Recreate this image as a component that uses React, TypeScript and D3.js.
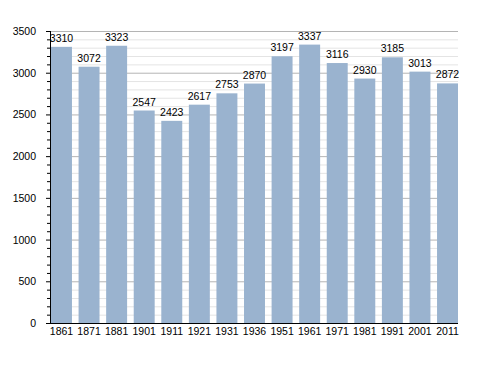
import React, { useEffect, useRef } from 'react';
import * as d3 from 'd3';

const years = ['1861', '1871', '1881', '1901', '1911', '1921', '1931', '1936', '1951', '1961', '1971', '1981', '1991', '2001', '2011'];
const population = [3310, 3072, 3323, 2547, 2423, 2617, 2753, 2870, 3197, 3337, 3116, 2930, 3185, 3013, 2872];
const yMajorTicks = [0, 500, 1000, 1500, 2000, 2500, 3000, 3500];

export default function App() {
  const svgRef = useRef<SVGSVGElement>(null);

  useEffect(() => {
    if (!svgRef.current) return;
    const svg = d3.select(svgRef.current);
    svg.selectAll('*').remove();

    const left = 50, right = 458, top = 31, bottom = 323;
    const font = 'Liberation Sans, Arial, sans-serif';

    const x = d3.scaleBand().domain(years).range([51, 458]).paddingInner(0.24).paddingOuter(0);
    const y = d3.scaleLinear().domain([0, 3500]).range([bottom, top]);

    // minor grid
    const minor = d3.range(0, 3501, 100).filter(v => v % 500 !== 0);
    svg.append('g').selectAll('line').data(minor).enter().append('line')
      .attr('x1', left).attr('x2', right)
      .attr('y1', d => y(d) + 0.5).attr('y2', d => y(d) + 0.5)
      .attr('stroke', '#e4e4e4').attr('stroke-width', 1);
    svg.append('g').selectAll('line').data(yMajorTicks.filter(d => d > 0)).enter().append('line')
      .attr('x1', left).attr('x2', right)
      .attr('y1', d => y(d) + 0.5).attr('y2', d => y(d) + 0.5)
      .attr('stroke', '#b4b4b4').attr('stroke-width', 1);

    // bars
    svg.append('g').selectAll('rect').data(population).enter().append('rect')
      .attr('x', (d, i) => x(years[i]) as number)
      .attr('y', d => y(d))
      .attr('width', x.bandwidth())
      .attr('height', d => bottom - y(d))
      .attr('fill', '#9ab3cf');

    // value labels
    svg.append('g').selectAll('text').data(population).enter().append('text')
      .attr('x', (d, i) => (x(years[i]) as number) + x.bandwidth() / 2)
      .attr('y', d => y(d) - 5)
      .attr('text-anchor', 'middle')
      .attr('font-family', font)
      .attr('font-size', 10.5)
      .attr('fill', '#000')
      .text(d => d);

    // y axis ticks
    svg.append('g').selectAll('line').data(minor).enter().append('line')
      .attr('x1', left - 3).attr('x2', left)
      .attr('y1', d => y(d) + 0.5).attr('y2', d => y(d) + 0.5)
      .attr('stroke', '#000');
    svg.append('g').selectAll('line').data(yMajorTicks).enter().append('line')
      .attr('x1', left - 4).attr('x2', left)
      .attr('y1', d => y(d) + 0.5).attr('y2', d => y(d) + 0.5)
      .attr('stroke', '#000');

    svg.append('g').selectAll('text').data(yMajorTicks).enter().append('text')
      .attr('x', 36)
      .attr('y', d => y(d) + 4)
      .attr('text-anchor', 'end')
      .attr('font-family', font)
      .attr('font-size', 10.5)
      .text(d => d);

    // axis lines
    svg.append('line').attr('x1', left + 0.5).attr('x2', left + 0.5).attr('y1', top).attr('y2', bottom + 1).attr('stroke', '#000');
    svg.append('line').attr('x1', left).attr('x2', right).attr('y1', bottom + 0.5).attr('y2', bottom + 0.5).attr('stroke', '#000');

    // x labels
    svg.append('g').selectAll('text').data(years).enter().append('text')
      .attr('x', d => (x(d) as number) + x.bandwidth() / 2)
      .attr('y', 335)
      .attr('text-anchor', 'middle')
      .attr('font-family', font)
      .attr('font-size', 10.5)
      .text(d => d);
  }, []);

  return (
    <svg ref={svgRef} width={488} height={373} style={{ position: 'absolute', left: 0, top: 0, background: '#fff' }} />
  );
}
